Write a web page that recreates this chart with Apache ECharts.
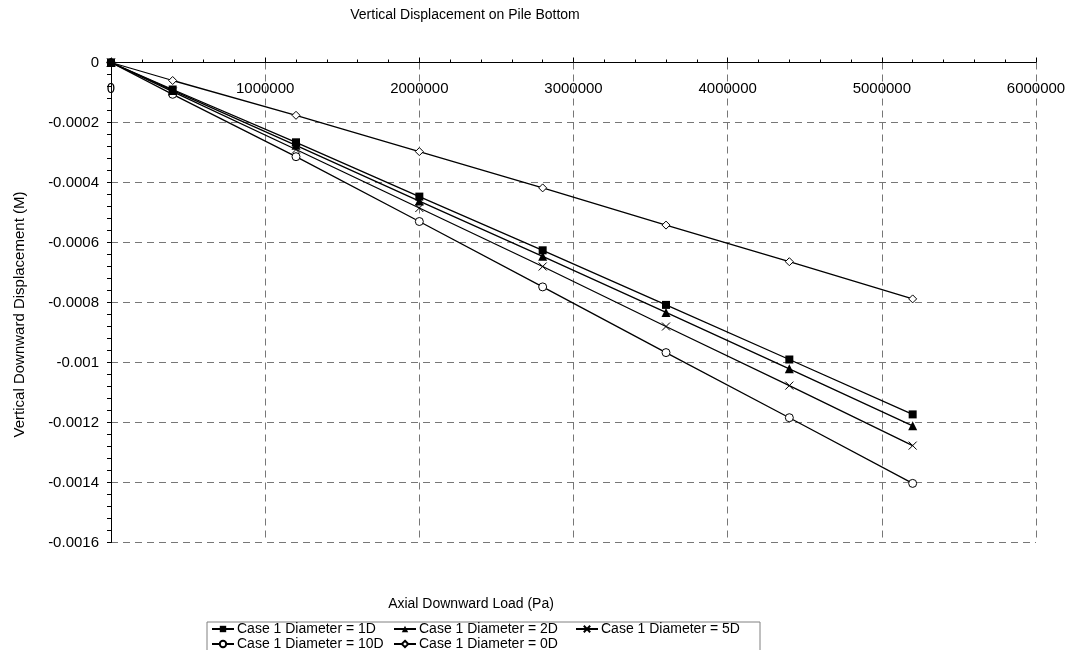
<!DOCTYPE html>
<html>
<head>
<meta charset="utf-8">
<title>Vertical Displacement on Pile Bottom</title>
<script src="https://cdn.jsdelivr.net/npm/echarts@6/dist/echarts.min.js"></script>
<style>
  html, body { margin: 0; padding: 0; background: #fff; }
  #chart { width: 1079px; height: 650px; }
</style>
</head>
<body>
<div id="chart"></div>
<script>
// Axial load steps (Pa)
const loads = [0, 400000, 1200000, 2000000, 2800000, 3600000, 4400000, 5200000];

// Vertical displacement at the pile bottom (m) for each case
const dia1D  = [0, -0.000090, -0.000266, -0.000447, -0.000626, -0.000808, -0.000990, -0.001173];
const dia2D  = [0, -0.000093, -0.000276, -0.000462, -0.000646, -0.000833, -0.001021, -0.001211];
const dia5D  = [0, -0.000097, -0.000290, -0.000485, -0.000680, -0.000880, -0.001077, -0.001277];
const dia10D = [0, -0.000106, -0.000314, -0.000530, -0.000748, -0.000967, -0.001184, -0.001403];
const dia0D  = [0, -0.000060, -0.000176, -0.000297, -0.000418, -0.000542, -0.000664, -0.000788];

const seriesNames = [
  'Case 1 Diameter = 1D',
  'Case 1 Diameter = 2D',
  'Case 1 Diameter = 5D',
  'Case 1 Diameter = 10D',
  'Case 1 Diameter = 0D'
];

const FONT = '"Liberation Sans", Arial, sans-serif';
const pairs = ys => loads.map((x, i) => [x, ys[i]]);

const gridDash = { color: '#777', type: [7, 5], width: 1 };

function lineSeries(name, ys, symbol, size, hollow, z) {
  return {
    name: name,
    type: 'line',
    data: pairs(ys),
    symbol: symbol,
    symbolSize: size,
    showAllSymbol: true,
    z: z,
    lineStyle: { color: '#000', width: 1.3 },
    itemStyle: hollow
      ? { color: '#fff', borderColor: '#000', borderWidth: 1 }
      : { color: '#000', borderColor: '#000', borderWidth: 0 },
    emphasis: { disabled: true },
    animation: false
  };
}

const chart = echarts.init(document.getElementById('chart'), null, { renderer: 'canvas' });

chart.setOption({
  backgroundColor: '#fff',
  animation: false,
  color: ['#000'],
  textStyle: { fontFamily: FONT, color: '#000' },
  title: [
    {
      text: 'Vertical Displacement on Pile Bottom',
      left: 460, top: 3, textAlign: 'center',
      textStyle: { fontFamily: FONT, fontSize: 14, fontWeight: 'normal', color: '#000' }
    },
    {
      text: 'Axial Downward Load (Pa)',
      left: 466, top: 592, textAlign: 'center',
      textStyle: { fontFamily: FONT, fontSize: 14, fontWeight: 'normal', color: '#000' }
    }
  ],
  grid: { left: 111, right: 43, top: 62.5, bottom: 107.5, containLabel: false },
  xAxis: {
    type: 'value',
    position: 'top',
    min: 0,
    max: 6000000,
    interval: 1000000,
    axisLine: { show: true, onZero: false, lineStyle: { color: '#000', width: 1 } },
    axisTick: { show: true, inside: false, length: 5, lineStyle: { color: '#000' } },
    minorTick: { show: true, splitNumber: 5, length: 3, lineStyle: { color: '#000' } },
    axisLabel: {
      inside: true, margin: 19, fontSize: 15, fontFamily: FONT, color: '#000',
      formatter: v => String(v)
    },
    splitLine: { show: true, lineStyle: gridDash },
    minorSplitLine: { show: false }
  },
  yAxis: {
    type: 'value',
    min: -0.0016,
    max: 0,
    interval: 0.0002,
    name: 'Vertical Downward Displacement (M)',
    nameLocation: 'middle',
    nameGap: 84,
    nameTextStyle: { fontFamily: FONT, fontSize: 15, color: '#000', padding: [0, 24, 0, 0] },
    axisLine: { show: true, onZero: false, lineStyle: { color: '#000', width: 1 } },
    axisTick: { show: true, inside: false, length: 4, lineStyle: { color: '#000' } },
    minorTick: { show: true, splitNumber: 5, length: 4, lineStyle: { color: '#000' } },
    axisLabel: {
      margin: 12, fontSize: 15, fontFamily: FONT, color: '#000',
      formatter: v => String(Number(v.toPrecision(6)))
    },
    splitLine: { show: true, lineStyle: gridDash },
    minorSplitLine: { show: false }
  },
  legend: {
    left: 207,
    top: 622,
    width: 560,
    orient: 'horizontal',
    itemWidth: 22,
    itemHeight: 8,
    itemGap: 1,
    padding: [0, 4, 0, 4],
    borderColor: '#808080',
    borderWidth: 1,
    backgroundColor: '#fff',
    textStyle: {
      fontFamily: FONT, fontSize: 14, lineHeight: 13, color: '#000',
      width: 155, overflow: 'none', padding: [0, 0, 0, -2]
    },
    data: seriesNames
  },
  series: [
    lineSeries(seriesNames[0], dia1D, 'rect', 8, false, 6),
    lineSeries(seriesNames[1], dia2D, 'triangle', 9, false, 5),
    lineSeries(seriesNames[2], dia5D, 'path://M0,0L10,10M10,0L0,10', 8, true, 4),
    lineSeries(seriesNames[3], dia10D, 'circle', 8, true, 3),
    lineSeries(seriesNames[4], dia0D, 'diamond', 8, true, 2)
  ]
});
</script>
</body>
</html>
